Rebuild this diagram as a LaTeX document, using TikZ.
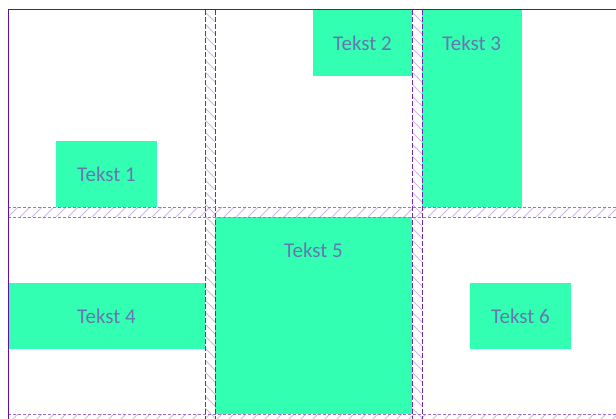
\documentclass[tikz,border=0pt]{standalone}
\usepackage{fontspec}
\setmainfont{Carlito}
\definecolor{gridc}{HTML}{5F10AA}
\definecolor{txtc}{HTML}{6577B0}
\definecolor{itemc}{HTML}{33FFB3}
\tikzset{
  item/.style={rectangle, fill=itemc, draw=none, inner sep=0pt, text=txtc,
    font=\fontsize{21}{25}\selectfont},
  txt/.style={inner sep=0pt, text=txtc, font=\fontsize{21}{25}\selectfont},
  hatch/.style={draw=gridc!30, line width=1pt},
  vgap/.style={draw=gridc!90, line width=0.9pt, dash pattern=on 5pt off 2pt},
  hgap/.style={draw=gridc!60, line width=0.8pt, dash pattern=on 3pt off 2pt},
  border/.style={draw=gridc, line width=1pt}
}
\begin{document}
\begin{tikzpicture}[x=1pt,y=-1pt]
\useasboundingbox (0,0) rectangle (616,419);
% items
\node[item, minimum width=101, minimum height=66] (t1) at (106.5,174) {Tekst 1};
\node[item, minimum width=99, minimum height=66] (t2) at (362.5,43) {Tekst 2};
\node[item, minimum width=99.5, minimum height=197] (t3) at (471.75,108.5) {};
\node[txt] (t3l) at (471.75,43) {Tekst 3};
\node[item, minimum width=197, minimum height=66] (t4) at (106.5,316) {Tekst 4};
\node[item, minimum width=197, minimum height=197] (t5) at (313.5,315.5) {};
\node[txt] (t5l) at (313.5,250) {Tekst 5};
\node[item, minimum width=101, minimum height=66] (t6) at (520.5,316) {Tekst 6};
% hatching vertical gaps
\begin{scope}
  \clip (205,10) rectangle (215,419);
  \foreach \y in {-12,0,12,...,432} \draw[hatch] (205,\y) -- ++(10,10);
\end{scope}
\begin{scope}
  \clip (412,10) rectangle (422,419);
  \foreach \y in {-12,0,12,...,432} \draw[hatch] (412,\y) -- ++(10,10);
\end{scope}
% hatching horizontal gaps
\begin{scope}
  \clip (8,207) rectangle (616,217);
  \foreach \x in {-4,8,...,628} \draw[hatch] (\x,217) -- ++(10,-10);
\end{scope}
\begin{scope}
  \clip (8,414) rectangle (616,424);
  \foreach \x in {-4,8,...,628} \draw[hatch] (\x,424) -- ++(10,-10);
\end{scope}
% gap lines
\foreach \x in {205,215,412,422} \draw[vgap] (\x,10) -- (\x,419);
\foreach \y in {207,217,414} \draw[hgap] (8,\y) -- (616,\y);
% border
\draw[border] (8,419) -- (8,10) -- (616,10);
\end{tikzpicture}
\end{document}
